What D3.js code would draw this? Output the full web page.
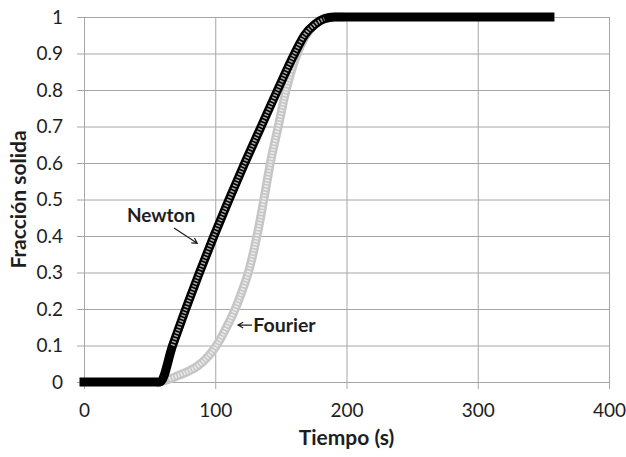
<!DOCTYPE html>
<html>
<head>
<meta charset="utf-8">
<script src="https://cdn.jsdelivr.net/npm/d3@7"></script>
<style>
  html, body { margin: 0; padding: 0; overflow: hidden; background: #fff; }
  svg { display: block; }
  text { font-family: Lato, "Open Sans", sans-serif; fill: #1e1e1e; }
</style>
</head>
<body>
<svg id="chart"></svg>
<script>
// values (time in s, solid fraction)
const newtonT = [0, 58, 67.5, 77.5, 88, 99, 110.5, 122.5, 135, 147.5, 160.5, 168, 176, 183, 191, 355];
const newtonF = [0, 0, 0.1, 0.2, 0.3, 0.4, 0.5, 0.6, 0.7, 0.8, 0.9, 0.95, 0.98, 0.995, 1, 1];

const fourierT = [58, 65, 72, 80, 87, 94, 100, 105, 110, 114, 118, 122, 126, 130, 134, 138, 142, 148, 154, 160, 166, 172, 180, 190, 195];
const fourierF = [0, 0.008, 0.018, 0.03, 0.045, 0.068, 0.095, 0.125, 0.16, 0.19, 0.225, 0.265, 0.31, 0.37, 0.44, 0.52, 0.6, 0.7, 0.8, 0.875, 0.93, 0.965, 0.99, 1, 1];

const xTicks = [0, 100, 200, 300, 400];
const yTicks = [0, 0.1, 0.2, 0.3, 0.4, 0.5, 0.6, 0.7, 0.8, 0.9, 1];

const width = 626;
const height = 457;
const margin = { top: 17, right: 17, bottom: 75, left: 84 };
const innerWidth = width - margin.left - margin.right;
const innerHeight = height - margin.top - margin.bottom;

const svg = d3.select("#chart").attr("width", width).attr("height", height);
const g = svg.append("g").attr("transform", `translate(${margin.left},${margin.top})`);

const x = d3.scaleLinear().domain([0, 400]).range([0, innerWidth]);
const y = d3.scaleLinear().domain([0, 1]).range([innerHeight, 0]);

const gridColor = "#a6a6a6";

// Axes with gridlines (ticks stick out 7px past the plot)
const yAxis = g.append("g")
  .attr("transform", `translate(${innerWidth},0)`)
  .call(d3.axisLeft(y).tickValues(yTicks).tickSize(innerWidth + 7).tickPadding(14).tickFormat(d3.format("")));
yAxis.select(".domain").remove();
yAxis.selectAll("line").attr("stroke", gridColor);
yAxis.selectAll("text").style("font-size", "19px");

const xAxis = g.append("g")
  .call(d3.axisBottom(x).tickValues(xTicks).tickSize(innerHeight + 7).tickPadding(15));
xAxis.select(".domain").remove();
xAxis.selectAll("line").attr("stroke", gridColor);
xAxis.selectAll("text").style("font-size", "19px");

// Series
const newton = newtonT.map((t, i) => ({ t, f: newtonF[i] }));
const fourier = fourierT.map((t, i) => ({ t, f: fourierF[i] }));

const line = d3.line().x((d) => x(d.t)).y((d) => y(d.f)).curve(d3.curveMonotoneX);

const drawSeries = (data, outer, inner) => {
  g.append("path")
    .datum(data)
    .attr("d", line)
    .attr("fill", "none")
    .attr("stroke", outer)
    .attr("stroke-width", 9)
    .attr("stroke-linecap", "square")
    .attr("stroke-linejoin", "round");
  g.append("path")
    .datum(data.filter((d) => d.f > 0 && d.f < 1))
    .attr("d", line)
    .attr("fill", "none")
    .attr("stroke", inner)
    .attr("stroke-width", 4)
    .attr("stroke-dasharray", "1.5,1.6");
};

drawSeries(fourier, "#c6c6c6", "#ededed");
drawSeries(newton, "#000", "#a8a8a8");

// Annotations
const arrow = (x1, y1, x2, y2) => {
  const ang = Math.atan2(y2 - y1, x2 - x1);
  const h = 6;
  const p = d3.path();
  p.moveTo(x1, y1);
  p.lineTo(x2, y2);
  p.moveTo(x2 - h * Math.cos(ang - 0.5), y2 - h * Math.sin(ang - 0.5));
  p.lineTo(x2, y2);
  p.lineTo(x2 - h * Math.cos(ang + 0.5), y2 - h * Math.sin(ang + 0.5));
  g.append("path").attr("d", p.toString()).attr("fill", "none").attr("stroke", "#1e1e1e").attr("stroke-width", 1.2);
};

g.append("text")
  .attr("x", x(58.7))
  .attr("y", y(0.439))
  .attr("text-anchor", "middle")
  .style("font-size", "19px")
  .style("font-weight", "bold")
  .text("Newton");
arrow(x(68.6), y(0.422), x(86.3), y(0.38));

g.append("text")
  .attr("x", x(129))
  .attr("y", y(0.138))
  .style("font-size", "19.5px")
  .style("font-weight", "bold")
  .text("Fourier");
arrow(x(128), y(0.156), x(117.3), y(0.156));

// Axis titles
svg.append("text")
  .attr("x", margin.left + innerWidth / 2)
  .attr("y", 445)
  .attr("text-anchor", "middle")
  .style("font-size", "21px")
  .style("font-weight", "bold")
  .text("Tiempo (s)");

svg.append("text")
  .attr("transform", "rotate(-90)")
  .attr("x", -(margin.top + innerHeight / 2))
  .attr("y", 26)
  .attr("text-anchor", "middle")
  .style("font-size", "21px")
  .style("font-weight", "bold")
  .text("Fracción solida");
</script>
</body>
</html>
